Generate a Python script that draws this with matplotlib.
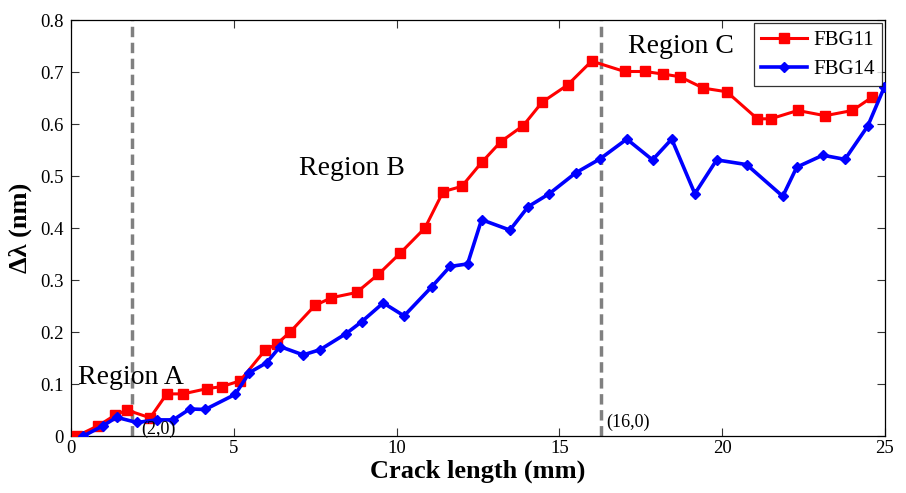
import matplotlib
matplotlib.use("Agg")
import matplotlib.pyplot as plt

# Data
fbg11_x = [0.18, 0.84, 1.35, 1.71, 2.43, 2.94, 3.44, 4.17, 4.63, 5.19, 5.96, 6.32, 6.73,
           7.49, 8.0, 8.77, 9.44, 10.1, 10.87, 11.43, 12.0, 12.61, 13.2, 13.89, 14.47,
           15.25, 15.99, 17.0, 17.63, 18.19, 18.7, 19.42, 20.14, 21.08, 21.49, 22.32,
           23.16, 24.0, 24.59]
fbg11_y = [0.0, 0.02, 0.04, 0.05, 0.035, 0.081, 0.081, 0.091, 0.095, 0.106, 0.165, 0.177,
           0.2, 0.251, 0.266, 0.276, 0.311, 0.351, 0.4, 0.47, 0.48, 0.526, 0.566, 0.597,
           0.642, 0.675, 0.721, 0.701, 0.701, 0.696, 0.691, 0.669, 0.662, 0.61, 0.61,
           0.626, 0.616, 0.626, 0.651]

fbg14_x = [0.38, 0.99, 1.4, 2.02, 2.63, 3.14, 3.65, 4.12, 5.04, 5.48, 6.01, 6.42, 7.13,
           7.65, 8.45, 8.93, 9.59, 10.23, 11.08, 11.64, 12.18, 12.61, 13.48, 14.04,
           14.69, 15.5, 16.25, 17.07, 17.86, 18.45, 19.16, 19.83, 20.75, 21.86, 22.29,
           23.09, 23.77, 24.47, 24.98]
fbg14_y = [0.0, 0.02, 0.036, 0.026, 0.031, 0.031, 0.052, 0.051, 0.08, 0.122, 0.141, 0.172,
           0.156, 0.166, 0.197, 0.22, 0.256, 0.231, 0.287, 0.326, 0.331, 0.416, 0.396,
           0.441, 0.466, 0.506, 0.533, 0.571, 0.531, 0.571, 0.466, 0.531, 0.522, 0.461,
           0.517, 0.54, 0.532, 0.596, 0.671]

boundary_x = [1.86, 16.27]
boundary_labels = ["(2,0)", "(16,0)"]
region_labels = ["Region A", "Region B", "Region C"]
region_pos = [(0.2, 0.1), (7.0, 0.502), (17.1, 0.736)]
boundary_label_pos = [(2.17, 0.004), (16.43, 0.018)]

xticks = [0, 5, 10, 15, 20, 25]
yticks = [0, 0.1, 0.2, 0.3, 0.4, 0.5, 0.6, 0.7, 0.8]
ytick_labels = ["0", "0.1", "0.2", "0.3", "0.4", "0.5", "0.6", "0.7", "0.8"]

plt.rcParams['font.family'] = ['Liberation Serif', 'DejaVu Serif']

fig = plt.figure(figsize=(9.06, 4.93), dpi=100)
ax = fig.add_axes([0.0784, 0.1156, 0.8984, 0.8438])

for bx in boundary_x:
    ax.axvline(bx, color='#808080', linestyle=(0, (3.0, 1.6)), linewidth=2.5, zorder=1)

ax.plot(fbg11_x, fbg11_y, color='#ff0000', linewidth=2.2, marker='s', markersize=6.5,
        markerfacecolor='#ff0000', markeredgecolor='#ff0000', label='FBG11', zorder=3)
ax.plot(fbg14_x, fbg14_y, color='#0000ff', linewidth=2.6, marker='D', markersize=5.5,
        markerfacecolor='#0000ff', markeredgecolor='#0000ff', label='FBG14', zorder=4)

for txt, (tx, ty) in zip(region_labels, region_pos):
    ax.text(tx, ty, txt, fontsize=20, va='baseline', ha='left', zorder=5)
for txt, (tx, ty) in zip(boundary_labels, boundary_label_pos):
    ax.text(tx, ty, txt, fontsize=13, va='baseline', ha='left', zorder=5)

ax.set_xlim(0, 25)
ax.set_ylim(0, 0.8)
ax.set_xticks(xticks)
ax.set_yticks(yticks)
ax.set_yticklabels(ytick_labels)
ax.tick_params(direction='in', top=True, right=True, length=6, width=0.8,
               labelsize=13.5, color='#333333')
ax.tick_params(axis='y', pad=5)
ax.tick_params(axis='x', pad=3)
for s in ax.spines.values():
    s.set_linewidth(0.9)

ax.set_xlabel('Crack length (mm)', fontsize=19, fontweight='bold', labelpad=2)
ax.set_ylabel('Δλ (nm)', fontsize=19, fontweight='bold', labelpad=6)

leg = ax.legend(loc='upper right', fontsize=15, frameon=True, fancybox=False,
                edgecolor='black', borderpad=0.35, handlelength=2.2, handletextpad=0.3,
                markerscale=1.0, numpoints=1, bbox_to_anchor=(0.996, 0.992),
                borderaxespad=0.0, labelspacing=0.45)
leg.get_frame().set_linewidth(0.9)

fig.savefig('out.png', dpi=100)
